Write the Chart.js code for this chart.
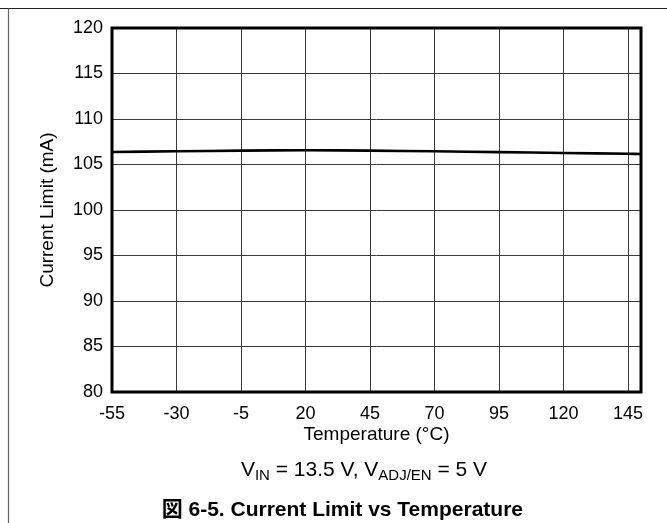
<!DOCTYPE html>
<html>
<head>
<meta charset="utf-8">
<script src="https://cdn.jsdelivr.net/npm/chart.js@4"></script>
<style>
  html, body { margin: 0; padding: 0; background: #fff; }
  #wrap { position: relative; width: 667px; height: 523px; }
</style>
</head>
<body>
<div id="wrap"><canvas id="c" width="667" height="523"></canvas></div>
<script>
// Temperature sweep (°C) and measured current limit (mA)
const temperatures = [-55, -30, -5, 20, 45, 70, 95, 120, 145, 150];
const currentLimit = [106.38, 106.45, 106.52, 106.57, 106.52, 106.45, 106.36, 106.27, 106.18, 106.16];

// Axis ticks
const xTickValues = [-55, -30, -5, 20, 45, 70, 95, 120, 145];
const yTickValues = [80, 85, 90, 95, 100, 105, 110, 115, 120];

const FONT = "'Liberation Sans', Arial, Helvetica, sans-serif";

// Outer page rule, plot frame, condition line and figure caption
const decorations = {
  id: 'decorations',
  beforeDraw(chart) {
    const ctx = chart.ctx;
    ctx.save();
    ctx.strokeStyle = '#222';
    ctx.lineWidth = 1.2;
    ctx.beginPath();
    ctx.moveTo(0, 8.5);
    ctx.lineTo(667, 8.5);
    ctx.stroke();
    ctx.strokeStyle = '#666';
    ctx.beginPath();
    ctx.moveTo(8.5, 8.5);
    ctx.lineTo(8.5, 523);
    ctx.stroke();
    ctx.restore();
  },
  afterDatasetsDraw(chart) {
    const ctx = chart.ctx;
    const a = chart.chartArea;
    ctx.save();
    ctx.strokeStyle = '#000';
    ctx.lineWidth = 3;
    ctx.strokeRect(a.left, a.top, a.right - a.left, a.bottom - a.top);
    ctx.restore();
  },
  afterDraw(chart) {
    const ctx = chart.ctx;
    ctx.save();
    ctx.fillStyle = '#000';
    ctx.textBaseline = 'alphabetic';

    // V_IN = 13.5 V, V_ADJ/EN = 5 V
    const parts = [
      { t: 'V', sub: false },
      { t: 'IN', sub: true },
      { t: ' = 13.5 V, V', sub: false },
      { t: 'ADJ/EN', sub: true },
      { t: ' = 5 V', sub: false }
    ];
    const mainFont = '21px ' + FONT;
    const subFont = '15px ' + FONT;
    let total = 0;
    parts.forEach(p => {
      ctx.font = p.sub ? subFont : mainFont;
      p.w = ctx.measureText(p.t).width;
      total += p.w;
    });
    let x = 364 - total / 2;
    ctx.textAlign = 'left';
    parts.forEach(p => {
      ctx.font = p.sub ? subFont : mainFont;
      ctx.fillText(p.t, x, p.sub ? 480 : 476);
      x += p.w;
    });

    // Figure caption
    ctx.font = "bold 21px 'Liberation Sans', Arial, 'Noto Sans CJK JP', sans-serif";
    ctx.textAlign = 'right';
    ctx.fillText('図 6-5. Current Limit vs Temperature', 523, 516);
    ctx.restore();
  }
};

new Chart(document.getElementById('c'), {
  type: 'line',
  data: {
    datasets: [{
      data: temperatures.map((t, i) => ({ x: t, y: currentLimit[i] })),
      borderColor: '#000',
      borderWidth: 2.6,
      pointRadius: 0,
      tension: 0.4,
      fill: false
    }]
  },
  options: {
    responsive: false,
    animation: false,
    devicePixelRatio: 1,
    layout: { padding: { left: 0, top: 28, right: 26, bottom: 71 } },
    plugins: { legend: { display: false }, tooltip: { enabled: false } },
    scales: {
      x: {
        type: 'linear',
        min: -55,
        max: 150,
        afterFit(scale) { scale.height = 60; },
        afterBuildTicks(scale) { scale.ticks = xTickValues.map(v => ({ value: v })); },
        grid: { color: '#3a3a3a', lineWidth: 1, drawTicks: false },
        border: { display: false },
        ticks: {
          padding: 11,
          maxRotation: 0,
          autoSkip: false,
          color: '#000',
          font: { family: FONT, size: 18 }
        },
        title: {
          display: true,
          text: 'Temperature (°C)',
          color: '#000',
          font: { family: FONT, size: 19 },
          padding: { top: 0, bottom: 5.6 }
        }
      },
      y: {
        type: 'linear',
        min: 80,
        max: 120,
        afterFit(scale) { scale.width = 112; },
        afterBuildTicks(scale) { scale.ticks = yTickValues.map(v => ({ value: v })); },
        grid: { color: '#3a3a3a', lineWidth: 1, drawTicks: false },
        border: { display: false },
        ticks: {
          padding: 9,
          color: '#000',
          font: { family: FONT, size: 18 }
        },
        title: {
          display: true,
          text: 'Current Limit (mA)',
          color: '#000',
          font: { family: FONT, size: 19 },
          padding: { top: 36.6, bottom: 0 }
        }
      }
    }
  },
  plugins: [decorations]
});
</script>
</body>
</html>
